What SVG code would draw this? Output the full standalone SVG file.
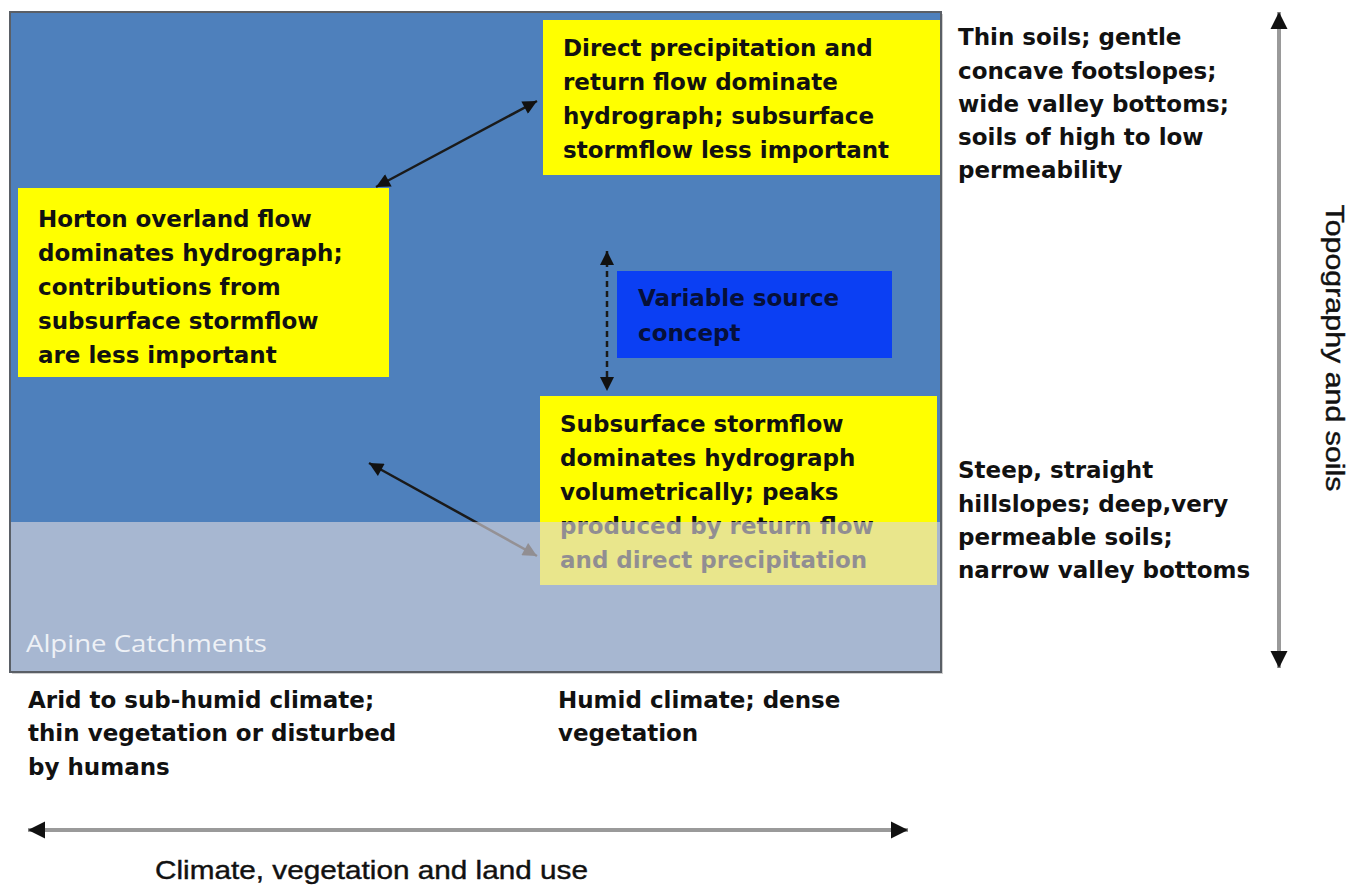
<svg xmlns="http://www.w3.org/2000/svg" width="1355" height="887" viewBox="0 0 1355 887">
<style>
.box{fill:#ffff00}
.t{font-family:"DejaVu Sans",sans-serif;font-weight:bold;font-size:23px;fill:#111}
.vs{font-family:"DejaVu Sans",sans-serif;font-weight:bold;font-size:23px;fill:#06103a}
.ax{font-family:"Liberation Sans",Arial,sans-serif;font-size:26px;fill:#111;stroke:#111;stroke-width:0.4}
.conn{stroke:#1a1a1a;stroke-width:2.5;fill:none}
.axis{stroke:#9a9a9a;stroke-width:4;fill:none}
</style>
<defs>
<marker id="ah" viewBox="0 0 10 10" refX="10" refY="5" markerUnits="userSpaceOnUse" markerWidth="17" markerHeight="14" orient="auto-start-reverse">
<path d="M0,0 L10,5 L0,10 z" fill="#111"/>
</marker>
<marker id="ahb" viewBox="0 0 10 10" refX="10" refY="5" markerUnits="userSpaceOnUse" markerWidth="17" markerHeight="18" orient="auto-start-reverse">
<path d="M0,0 L10,5 L0,10 z" fill="#111"/>
</marker>
</defs>
<rect width="1355" height="887" fill="#ffffff"/>
<g id="frame">
<rect x="12" y="14" width="931" height="660" fill="#cfcfcf"/>
<rect x="10" y="12" width="931" height="660" fill="#4e80bc"/>
</g>
<g id="node-direct">
<rect class="box" x="543" y="20" width="397" height="155"/>
<text class="t" x="563" y="56">Direct precipitation and</text>
<text class="t" x="563" y="90">return flow dominate</text>
<text class="t" x="563" y="124">hydrograph; subsurface</text>
<text class="t" x="563" y="158">stormflow less important</text>
</g>
<g id="node-horton">
<rect class="box" x="18" y="188" width="371" height="189"/>
<text class="t" x="38" y="227">Horton overland flow</text>
<text class="t" x="38" y="261">dominates hydrograph;</text>
<text class="t" x="38" y="295">contributions from</text>
<text class="t" x="38" y="329">subsurface stormflow</text>
<text class="t" x="38" y="363">are less important</text>
</g>
<g id="node-variable">
<rect x="617" y="271" width="275" height="87" fill="#0b3ff3"/>
<text class="vs" x="638" y="306">Variable source</text>
<text class="vs" x="638" y="341">concept</text>
</g>
<g id="node-subsurface">
<rect class="box" x="540" y="396" width="397" height="189"/>
<text class="t" x="560" y="432">Subsurface stormflow</text>
<text class="t" x="560" y="466">dominates hydrograph</text>
<text class="t" x="560" y="500">volumetrically; peaks</text>
<text class="t" x="560" y="534">produced by return flow</text>
<text class="t" x="560" y="568">and direct precipitation</text>
</g>
<g id="connectors">
<line class="conn" x1="376" y1="187" x2="537" y2="101" marker-start="url(#ah)" marker-end="url(#ah)"/>
<line class="conn" x1="607" y1="251" x2="607" y2="391" stroke-dasharray="6 4" marker-start="url(#ah)" marker-end="url(#ah)"/>
<line class="conn" x1="369" y1="463" x2="537" y2="556" marker-start="url(#ah)" marker-end="url(#ah)"/>
</g>
<g id="node-alpine">
<rect x="10" y="522" width="931" height="150" fill="#dcd7dd" fill-opacity="0.63"/>
<text x="26" y="652" font-family="'Open Sans',sans-serif" font-size="24" fill="#eef1f6" textLength="241" lengthAdjust="spacingAndGlyphs">Alpine Catchments</text>
</g>
<rect x="10" y="12" width="931" height="660" fill="none" stroke="#5a5f66" stroke-width="2"/>
<g id="labels-right">
<text class="t" x="958" y="45">Thin soils; gentle</text>
<text class="t" x="958" y="79">concave footslopes;</text>
<text class="t" x="958" y="112">wide valley bottoms;</text>
<text class="t" x="958" y="145">soils of high to low</text>
<text class="t" x="958" y="178">permeability</text>
<text class="t" x="958" y="478">Steep, straight</text>
<text class="t" x="958" y="512">hillslopes; deep,very</text>
<text class="t" x="958" y="545">permeable soils;</text>
<text class="t" x="958" y="578">narrow valley bottoms</text>
</g>
<g id="labels-bottom">
<text class="t" x="28" y="708">Arid to sub-humid climate;</text>
<text class="t" x="28" y="741">thin vegetation or disturbed</text>
<text class="t" x="28" y="775">by humans</text>
<text class="t" x="558" y="708">Humid climate; dense</text>
<text class="t" x="558" y="741">vegetation</text>
</g>
<g id="axes">
<line class="axis" x1="1279" y1="12" x2="1279" y2="668" marker-start="url(#ahb)" marker-end="url(#ahb)"/>
<line class="axis" x1="28" y1="830" x2="908" y2="830" marker-start="url(#ahb)" marker-end="url(#ahb)"/>
<text class="ax" transform="translate(1326,348) rotate(90)" text-anchor="middle" textLength="287" lengthAdjust="spacingAndGlyphs">Topography and soils</text>
<text class="ax" x="155" y="879" textLength="433" lengthAdjust="spacingAndGlyphs">Climate, vegetation and land use</text>
</g>
</svg>
